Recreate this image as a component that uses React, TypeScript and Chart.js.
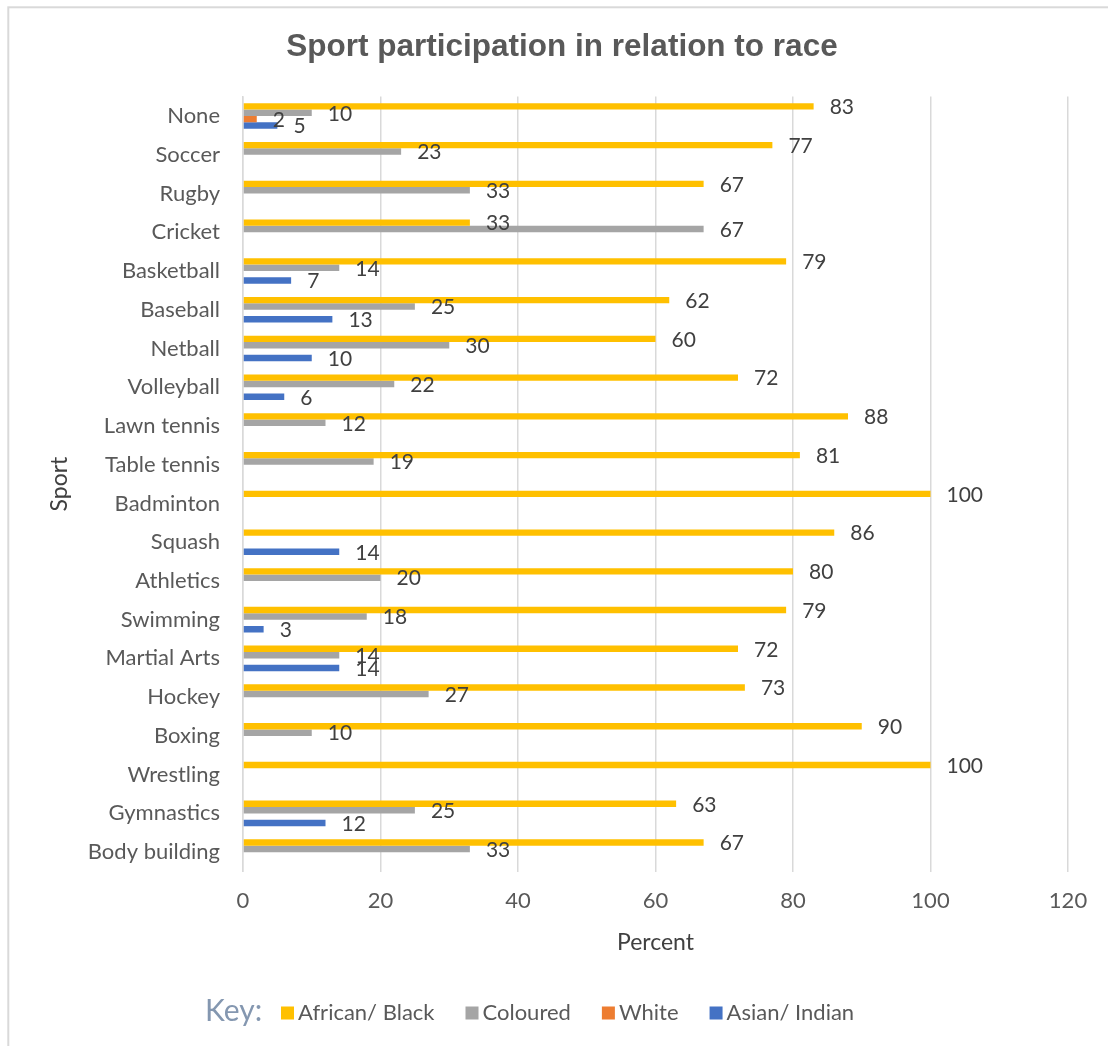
import React, { useEffect, useRef } from "react";
import { Chart, registerables } from "chart.js";

Chart.register(...registerables);

const sports = [
  "None", "Soccer", "Rugby", "Cricket", "Basketball", "Baseball", "Netball",
  "Volleyball", "Lawn tennis", "Table tennis", "Badminton", "Squash",
  "Athletics", "Swimming", "Martial Arts", "Hockey", "Boxing", "Wrestling",
  "Gymnastics", "Body building",
];

const africanBlack = [83, 77, 67, 33, 79, 62, 60, 72, 88, 81, 100, 86, 80, 79, 72, 73, 90, 100, 63, 67];
const coloured = [10, 23, 33, 67, 14, 25, 30, 22, 12, 19, null, null, 20, 18, 14, 27, 10, null, 25, 33];
const white = [2, null, null, null, null, null, null, null, null, null, null, null, null, null, null, null, null, null, null, null];
const asianIndian = [5, null, null, null, 7, 13, 10, 6, null, null, null, 14, null, 3, 14, null, null, null, 12, null];

const seriesNames = ["African/ Black", "Coloured", "White", "Asian/ Indian"];
const seriesColors = ["#FFC000", "#A5A5A5", "#ED7D31", "#4472C4"];

const xMin = 0;
const xMax = 120;
const xStep = 20;

const chartTitle = "Sport participation in relation to race";
const xTitle = "Percent";
const yTitle = "Sport";
const keyLabel = "Key:";

const FONT = "Lato, 'Open Sans', sans-serif";

const framePlugin = {
  id: "frame",
  beforeDraw(chart: any) {
    const { ctx, width, height } = chart;
    ctx.save();
    ctx.fillStyle = "#ffffff";
    ctx.fillRect(0, 0, width, height);
    ctx.strokeStyle = "#d9d9d9";
    ctx.lineWidth = 2;
    ctx.strokeRect(8.3, 7.3, width + 40, height + 40);
    ctx.font = "bold 31.5px 'Liberation Sans', Arial, sans-serif";
    ctx.fillStyle = "#595959";
    ctx.textAlign = "center";
    ctx.textBaseline = "middle";
    ctx.fillText(chartTitle, 562, 47);
    ctx.restore();
  },
};

const dataLabelPlugin = {
  id: "dataLabels",
  afterDatasetsDraw(chart: any) {
    const { ctx } = chart;
    ctx.save();
    ctx.font = `21px ${FONT}`;
    ctx.fillStyle = "#404040";
    ctx.textAlign = "left";
    ctx.textBaseline = "middle";
    chart.data.datasets.forEach((ds: any, i: number) => {
      const meta = chart.getDatasetMeta(i);
      meta.data.forEach((bar: any, j: number) => {
        const v = ds.data[j];
        if (v === null || v === undefined) return;
        ctx.fillText(String(v), bar.x + 16, bar.y + 1);
      });
    });
    ctx.restore();
  },
};

const keyLegendPlugin = {
  id: "keyLegend",
  afterDraw(chart: any) {
    const { ctx } = chart;
    ctx.save();
    const cy = 1013;
    ctx.textBaseline = "middle";
    ctx.textAlign = "left";
    ctx.font = `30px ${FONT}`;
    ctx.fillStyle = "#8497B0";
    ctx.fillText(keyLabel, 205, cy - 2);
    ctx.font = `22px ${FONT}`;
    let x = 281;
    chart.data.datasets.forEach((ds: any) => {
      ctx.fillStyle = ds.backgroundColor;
      ctx.fillRect(x, cy - 6.5, 13, 13);
      ctx.fillStyle = "#595959";
      ctx.fillText(ds.label, x + 17, cy);
      x += 17 + ctx.measureText(ds.label).width + 31;
    });
    ctx.restore();
  },
};

export default function App() {
  const canvasRef = useRef<HTMLCanvasElement | null>(null);

  useEffect(() => {
    document.body.style.margin = "0";
    const canvas = canvasRef.current;
    if (!canvas) return;
    const seriesData = [africanBlack, coloured, white, asianIndian];
    const chart = new Chart(canvas, {
      type: "bar",
      data: {
        labels: sports,
        datasets: seriesData.map((d, i) => ({
          label: seriesNames[i],
          data: d,
          backgroundColor: seriesColors[i],
          borderWidth: 0,
          categoryPercentage: 0.66,
          barPercentage: 1.0,
        })),
      },
      options: {
        indexAxis: "y",
        responsive: false,
        animation: false,
        maintainAspectRatio: false,
        layout: { padding: { left: 0, right: 40, top: 96.6, bottom: 84.5 } },
        plugins: {
          legend: { display: false },
          tooltip: { enabled: false },
          title: { display: false },
        },
        scales: {
          x: {
            type: "linear",
            min: xMin,
            max: xMax,
            ticks: {
              stepSize: xStep,
              color: "#595959",
              font: { family: FONT, size: 22 },
              padding: 16,
            },
            grid: { color: "#d9d9d9", lineWidth: 1.5, drawTicks: false },
            border: { display: false },
            title: {
              display: true,
              text: xTitle,
              color: "#404040",
              font: { family: FONT, size: 23 },
              padding: { top: 0, bottom: 5 },
            },
            afterFit(scale: any) {
              scale.height = 90;
            },
          },
          y: {
            type: "category",
            ticks: {
              autoSkip: false,
              color: "#595959",
              font: { family: FONT, size: 22 },
              padding: 23,
            },
            grid: { display: false, drawTicks: false },
            border: { display: true, color: "#d9d9d9", width: 1.5 },
            title: {
              display: true,
              text: yTitle,
              color: "#404040",
              font: { family: FONT, size: 23 },
              padding: { top: 46, bottom: 0 },
            },
            afterFit(scale: any) {
              scale.width = 243;
            },
          },
        },
      },
      plugins: [framePlugin, dataLabelPlugin, keyLegendPlugin],
    });
    return () => chart.destroy();
  }, []);

  return (
    <canvas
      ref={canvasRef}
      width={1108}
      height={1046}
      style={{ display: "block", width: 1108, height: 1046 }}
    />
  );
}
